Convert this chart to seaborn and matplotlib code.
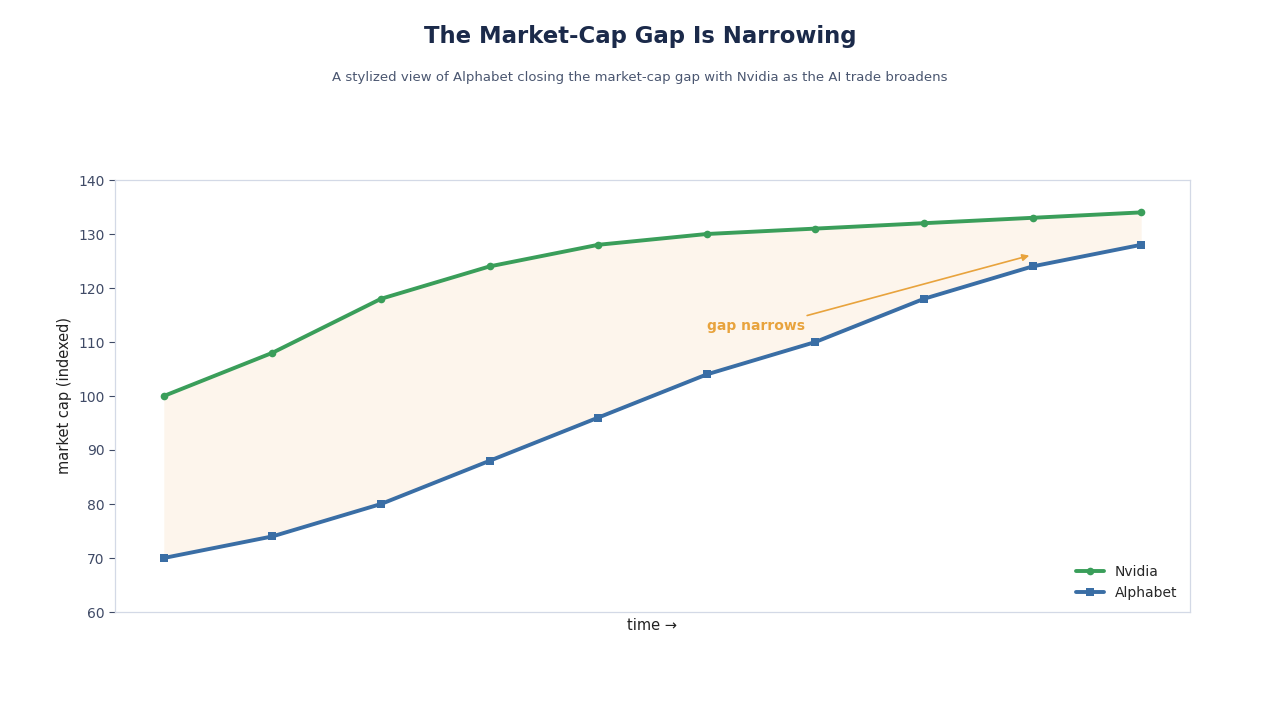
import numpy as np
import pandas as pd
import seaborn as sns
import matplotlib.pyplot as plt

periods = list(range(10))
nvidia = [100, 108, 118, 124, 128, 130, 131, 132, 133, 134]
alphabet = [70, 74, 80, 88, 96, 104, 110, 118, 124, 128]

green = '#3a9e5a'
blue = '#3a6ea5'
orange = '#e8a33d'
fill_col = '#fdf5ec'
edge_col = '#d3d9e6'
text_dark = '#1b2a4a'
text_mid = '#3f4a66'

sns.set_theme(style='white')
plt.rcParams['font.family'] = ['DejaVu Sans']

df = pd.DataFrame({'t': periods + periods,
                   'value': nvidia + alphabet,
                   'company': ['Nvidia'] * 10 + ['Alphabet'] * 10})

fig = plt.figure(figsize=(12.8, 7.2), dpi=100)
ax = fig.add_axes([0.0898, 0.15, 0.8399, 0.60])

ax.fill_between(periods, alphabet, nvidia, color=fill_col, zorder=0, linewidth=0)
sns.lineplot(data=df, x='t', y='value', hue='company', style='company',
             palette={'Nvidia': green, 'Alphabet': blue},
             markers={'Nvidia': 'o', 'Alphabet': 's'},
             dashes=False, linewidth=2.8, markersize=5.5, markeredgewidth=0,
             ax=ax)

ax.set_xlim(-0.45, 9.45)
ax.set_ylim(60, 140)
ax.set_xticks([])
ax.set_yticks(range(60, 141, 10))
ax.tick_params(axis='y', colors=text_mid, labelsize=10, length=4, width=0.8,
               left=True, color=text_mid)
for s in ax.spines.values():
    s.set_color(edge_col)
    s.set_linewidth(0.9)

ax.set_xlabel('time →', fontsize=10.5, color='#222222', labelpad=4)
ax.set_ylabel('market cap (indexed)', fontsize=10.5, color='#222222')

ax.annotate('gap narrows', xy=(7.97, 126), xytext=(5.0, 113),
            color=orange, fontsize=10, fontweight='bold', ha='left', va='center',
            arrowprops=dict(arrowstyle='-|>', color=orange, lw=1.2,
                            mutation_scale=10, relpos=(0.9, 1.0), shrinkA=0, shrinkB=0))

leg = ax.legend(loc='lower right', frameon=False, fontsize=10)
for line in leg.get_lines():
    line.set_linewidth(2.8)

fig.text(0.5, 0.95, 'The Market-Cap Gap Is Narrowing', ha='center', va='center',
         fontsize=16.4, fontweight='bold', color=text_dark)
fig.text(0.5, 0.893, 'A stylized view of Alphabet closing the market-cap gap with Nvidia as the AI trade broadens',
         ha='center', va='center', fontsize=9.5, color='#4a5670')

fig.savefig('out.png', dpi=100)
